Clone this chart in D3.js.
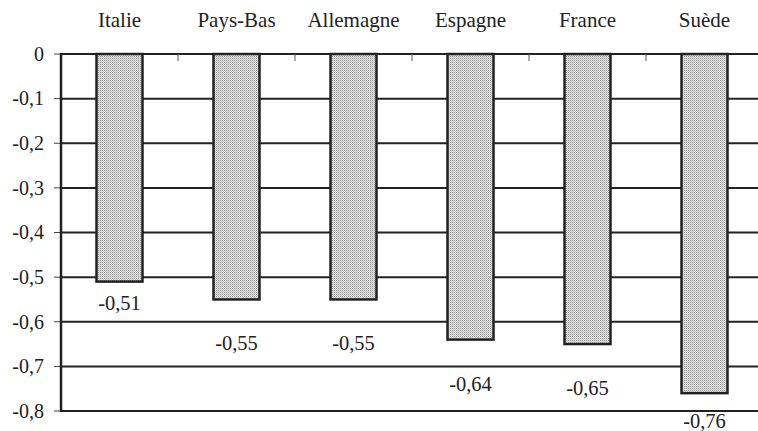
<!DOCTYPE html>
<html>
<head>
<meta charset="utf-8">
<style>
  body { margin: 0; background: #fff; }
  svg text { fill: #222; }
</style>
</head>
<body>
<svg id="chart" width="758" height="431" font-family="'Liberation Serif', 'Times New Roman', Times, serif"></svg>
<script src="https://d3js.org/d3.v7.min.js"></script>
<script>
// data
var countries = ["Italie", "Pays-Bas", "Allemagne", "Espagne", "France", "Suède"];
var values = [-0.51, -0.55, -0.55, -0.64, -0.65, -0.76];
var yTicks = [0, -0.1, -0.2, -0.3, -0.4, -0.5, -0.6, -0.7, -0.8];

var svg = d3.select("#chart");
var plotLeft = 61, plotRight = 763, plotTop = 54, plotBottom = 411;

var x = d3.scaleBand()
    .domain(countries)
    .range([plotLeft, plotRight])
    .paddingInner(0)
    .paddingOuter(0);

var y = d3.scaleLinear()
    .domain([0, -0.8])
    .range([plotTop, plotBottom]);

var loc = d3.formatLocale({decimal: ",", thousands: " ", grouping: [3], currency: ["", ""], minus: "-"});
var fmt = function(v) { return v === 0 ? "0" : loc.format(".1f")(v); };
var fmt2 = loc.format(".2f");

// stipple fill
var defs = svg.append("defs");
var pat = defs.append("pattern")
    .attr("id", "stip")
    .attr("patternUnits", "userSpaceOnUse")
    .attr("width", 2).attr("height", 2);
pat.append("rect").attr("width", 2).attr("height", 2).attr("fill", "#e8e8e8");
pat.append("rect").attr("x", 0).attr("y", 0).attr("width", 1).attr("height", 1).attr("fill", "#909090");
pat.append("rect").attr("x", 1).attr("y", 1).attr("width", 1).attr("height", 1).attr("fill", "#c4c4c4");

// gridlines
svg.append("g")
  .selectAll("line")
  .data(yTicks)
  .join("line")
    .attr("x1", plotLeft)
    .attr("x2", plotRight)
    .attr("y1", function(d) { return y(d); })
    .attr("y2", function(d) { return y(d); })
    .attr("stroke", "#222")
    .attr("stroke-width", 2);

// left tick marks
svg.append("g")
  .selectAll("line")
  .data(yTicks)
  .join("line")
    .attr("x1", plotLeft - 7)
    .attr("x2", plotLeft)
    .attr("y1", function(d) { return y(d); })
    .attr("y2", function(d) { return y(d); })
    .attr("stroke", "#444")
    .attr("stroke-width", 1);

// top tick marks at category boundaries
svg.append("g")
  .selectAll("line")
  .data(countries.slice(1))
  .join("line")
    .attr("x1", function(d) { return x(d); })
    .attr("x2", function(d) { return x(d); })
    .attr("y1", plotTop)
    .attr("y2", plotTop + 7)
    .attr("stroke", "#555")
    .attr("stroke-width", 1);

// y axis line
svg.append("line")
    .attr("x1", plotLeft).attr("x2", plotLeft)
    .attr("y1", plotTop - 1).attr("y2", plotBottom + 1)
    .attr("stroke", "#222")
    .attr("stroke-width", 2.5);

// y tick labels
svg.append("g")
  .selectAll("text")
  .data(yTicks)
  .join("text")
    .attr("x", 44)
    .attr("y", function(d) { return y(d); })
    .attr("dy", "0.34em")
    .attr("text-anchor", "end")
    .attr("font-size", 20)
    .text(fmt);

// category labels on top
svg.append("g")
  .selectAll("text")
  .data(countries)
  .join("text")
    .attr("x", function(d) { return x(d) + x.bandwidth() / 2; })
    .attr("y", 27)
    .attr("text-anchor", "middle")
    .attr("font-size", 21)
    .text(function(d) { return d; });

// bars
var barW = 46;
svg.append("g")
  .selectAll("rect")
  .data(values)
  .join("rect")
    .attr("x", function(d, i) { return x(countries[i]) + (x.bandwidth() - barW) / 2; })
    .attr("y", y(0))
    .attr("width", barW)
    .attr("height", function(d) { return y(d) - y(0); })
    .attr("fill", "url(#stip)")
    .attr("stroke", "#222")
    .attr("stroke-width", 2.5);

// value labels: below bar, nudged away from gridlines
function labelY(v) {
  var b = y(v) + 1;
  var c = b + 43;
  var clash = yTicks.some(function(t) { return Math.abs(y(t) - c) < 9; });
  if (clash) c = b + 20;
  if (c > 421) c = 421;
  return c;
}
svg.append("g")
  .selectAll("text")
  .data(values)
  .join("text")
    .attr("x", function(d, i) { return x(countries[i]) + x.bandwidth() / 2; })
    .attr("y", function(d) { return labelY(d); })
    .attr("dy", "0.34em")
    .attr("text-anchor", "middle")
    .attr("font-size", 20.5)
    .text(fmt2);
</script>
</body>
</html>
